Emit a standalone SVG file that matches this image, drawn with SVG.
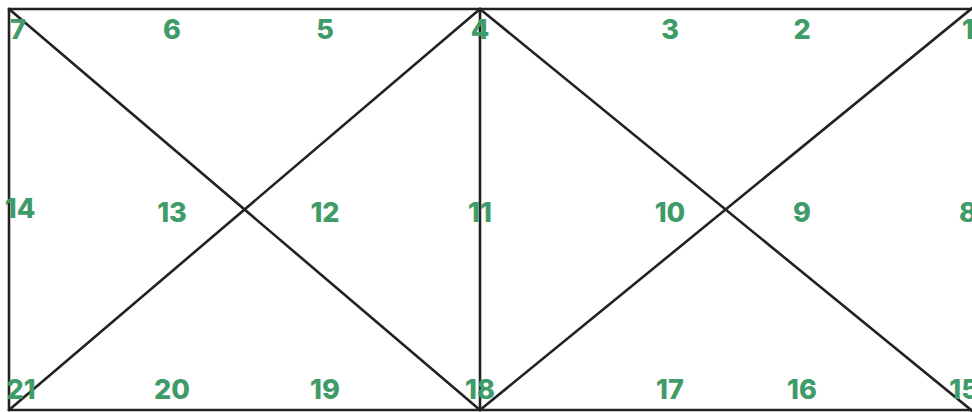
<svg xmlns="http://www.w3.org/2000/svg" width="972" height="412" viewBox="0 0 972 412">
<style>
.l{stroke:#222;stroke-width:2.6;fill:none;stroke-linecap:round}
.t{font-family:Inter,"Liberation Sans",sans-serif;font-weight:800;font-size:27px;fill:#3f9b68;text-anchor:middle;dominant-baseline:central}
</style>
<rect width="972" height="412" fill="#fff"/>
<g id="connectors">
<line class="l" x1="9" y1="9" x2="972" y2="9"/>
<line class="l" x1="9" y1="9" x2="9" y2="410"/>
<line class="l" x1="9" y1="410" x2="972" y2="410"/>
<line class="l" x1="480" y1="9" x2="480" y2="410"/>
<line class="l" x1="9" y1="9" x2="480" y2="410"/>
<line class="l" x1="480" y1="9" x2="9" y2="410"/>
<line class="l" x1="480" y1="9" x2="976" y2="414"/>
<line class="l" x1="976" y1="5" x2="480" y2="410"/>
</g>
<g id="n7"><text class="t" x="18" y="29">7</text></g>
<g id="n6"><text class="t" x="172" y="29">6</text></g>
<g id="n5"><text class="t" x="325" y="29">5</text></g>
<g id="n4"><text class="t" x="480" y="29">4</text></g>
<g id="n3"><text class="t" x="670" y="29">3</text></g>
<g id="n2"><text class="t" x="802" y="29">2</text></g>
<g id="n1"><text class="t" x="968" y="29">1</text></g>
<g id="n14"><text class="t" x="20" y="208">14</text></g>
<g id="n13"><text class="t" x="172" y="212">13</text></g>
<g id="n12"><text class="t" x="325" y="212">12</text></g>
<g id="n11"><text class="t" x="480" y="212">11</text></g>
<g id="n10"><text class="t" x="670" y="212">10</text></g>
<g id="n9"><text class="t" x="802" y="212">9</text></g>
<g id="n8"><text class="t" x="968" y="212">8</text></g>
<g id="n21"><text class="t" x="21" y="389">21</text></g>
<g id="n20"><text class="t" x="172" y="389">20</text></g>
<g id="n19"><text class="t" x="325" y="389">19</text></g>
<g id="n18"><text class="t" x="480" y="389">18</text></g>
<g id="n17"><text class="t" x="670" y="389">17</text></g>
<g id="n16"><text class="t" x="802" y="389">16</text></g>
<g id="n15"><text class="t" x="964" y="389">15</text></g>
</svg>
